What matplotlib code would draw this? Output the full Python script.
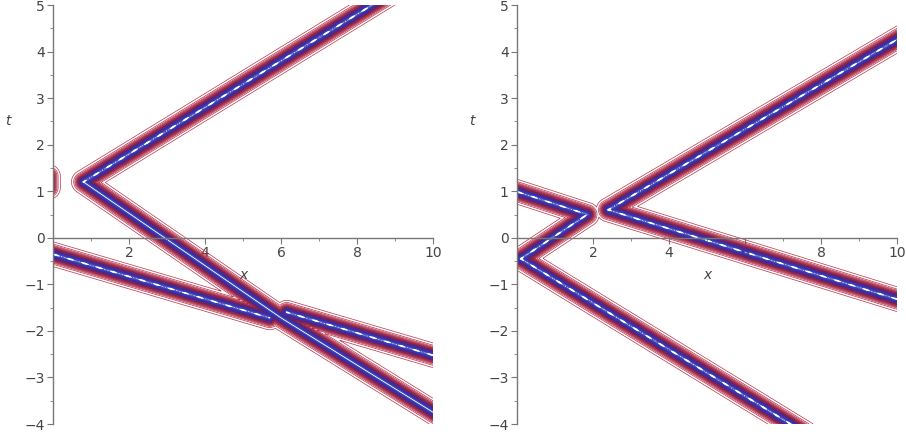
import numpy as np
import matplotlib
matplotlib.use('Agg')
import matplotlib.pyplot as plt
from matplotlib.colors import LinearSegmentedColormap

# ---- data: soliton ridge segments (x0, t0) -> (x1, t1) ----
left_x0 = [0.80, 0.80, 6.00, -0.30, 6.15, -0.12]
left_t0 = [1.20, 1.20, -1.72, -0.28, -1.60, 1.08]
left_x1 = [9.20, 6.00, 10.40, 5.70, 10.40, -0.12]
left_t1 = [5.40, -1.72, -3.95, -1.72, -2.62, 1.32]
left_mod = [0.07, 0.0, 0.0, 0.06, 0.06, 0.0]

right_x0 = [2.40, 2.40, -0.30, 0.10, 0.10]
right_t0 = [0.60, 0.60, 1.07, -0.45, -0.45]
right_x1 = [10.40, 10.40, 1.85, 1.85, 7.60]
right_t1 = [4.45, -1.42, 0.50, 0.50, -4.20]
right_mod = [0.07, 0.06, 0.06, 0.07, 0.07]

x_ticks = [2, 4, 6, 8, 10]
t_ticks = [-4, -3, -2, -1, 0, 1, 2, 3, 4, 5]

# ---- style constants ----
SX, ST = 38.0, 46.6      # pixels per data unit (x, t)
W = 4.7                  # ridge width in pixels
PERIOD = 15.0            # modulation period along ridge in pixels
levels = np.linspace(0.025, 0.97, 26)
cmap = LinearSegmentedColormap.from_list(
    'maple', ['#c03048', '#9a1c3c', '#6a1e62', '#3a2aa0', '#3038b8'])


def field(X, T, x0s, t0s, x1s, t1s, mods):
    Xp, Tp = X * SX, T * ST
    F = np.zeros_like(X)
    for x0, t0, x1, t1, m in zip(x0s, t0s, x1s, t1s, mods):
        ax_, at_ = x0 * SX, t0 * ST
        dx, dt = x1 * SX - ax_, t1 * ST - at_
        L2 = dx * dx + dt * dt
        if L2 == 0:
            u = np.zeros_like(X)
            L = 0.0
        else:
            u = np.clip(((Xp - ax_) * dx + (Tp - at_) * dt) / L2, 0, 1)
            L = np.sqrt(L2)
        px, pt = ax_ + u * dx, at_ + u * dt
        dist = np.hypot(Xp - px, Tp - pt)
        s = u * L
        core = (1.0 / np.cosh(dist / W)) ** 2
        g = core * (1 + m * np.cos(2 * np.pi * s / PERIOD) * core)
        F = np.maximum(F, g)
    return F


xs = np.linspace(0, 10, 1300)
ts = np.linspace(-4, 5, 1300)
X, T = np.meshgrid(xs, ts)

fig = plt.figure(figsize=(9.06, 4.38), dpi=100)
ax1 = fig.add_axes([53 / 906, 14 / 438, 380 / 906, 419 / 438])
ax2 = fig.add_axes([517 / 906, 14 / 438, 380 / 906, 419 / 438])

txt = '#444444'
for ax, segs in ((ax1, (left_x0, left_t0, left_x1, left_t1, left_mod)),
                 (ax2, (right_x0, right_t0, right_x1, right_t1, right_mod))):
    F = field(X, T, *segs)
    ax.contour(X, T, F, levels=levels, cmap=cmap, linewidths=0.5)
    ax.set_xlim(0, 10)
    ax.set_ylim(-4, 5)
    ax.spines['left'].set_position(('data', 0))
    ax.spines['bottom'].set_position(('data', 0))
    ax.spines['top'].set_visible(False)
    ax.spines['right'].set_visible(False)
    for sp in ('left', 'bottom'):
        ax.spines[sp].set_color('#777777')
        ax.spines[sp].set_linewidth(1.0)
    ax.set_xticks(x_ticks)
    ax.set_xticks([1, 3, 5, 7, 9], minor=True)
    ax.set_yticks(t_ticks)
    ax.set_yticks(np.arange(-3.5, 5, 1.0), minor=True)
    ax.tick_params(which='major', length=4, color='#777777', labelcolor=txt,
                   labelsize=10, direction='out', pad=2)
    ax.tick_params(which='minor', length=2.5, color='#777777', direction='out')
    ax.patch.set_alpha(0)
    ax.text(5.0, -0.8, 'x', fontsize=10, style='italic', color=txt,
            ha='center', va='center')
    ax.text(-1.18, 2.5, 't', fontsize=10, style='italic', color=txt,
            ha='center', va='center')

fig.savefig('out.png', dpi=100)
